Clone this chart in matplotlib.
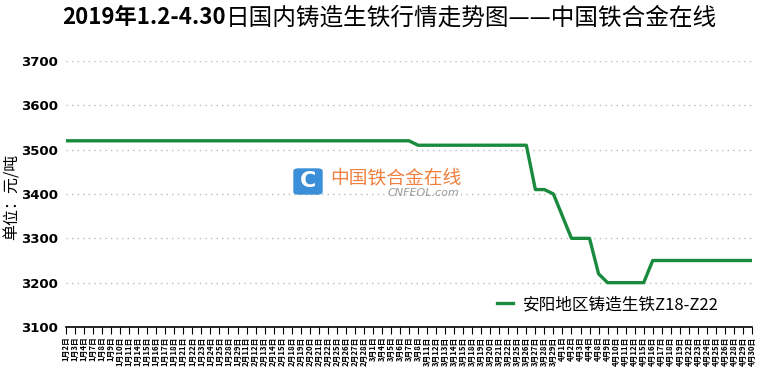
import matplotlib
matplotlib.use("Agg")
import matplotlib.pyplot as plt
from matplotlib.patches import FancyBboxPatch

plt.rcParams['font.family'] = ['Noto Sans CJK SC', 'DejaVu Sans']

# trading days shown on the x axis
months = [1] * 20 + [2] * 14 + [3] * 21 + [4] * 22
days = [2, 3, 4, 7, 8, 9, 10, 11, 14, 15, 16, 17, 18, 21, 22, 23, 24, 25, 28, 29,
        11, 12, 13, 14, 15, 18, 19, 20, 21, 22, 25, 26, 27, 28,
        1, 4, 5, 6, 7, 8, 11, 12, 13, 14, 15, 18, 19, 20, 21, 22, 25, 26, 27, 28, 29,
        1, 2, 3, 4, 8, 9, 10, 11, 12, 15, 16, 17, 18, 19, 22, 23, 24, 25, 26, 28, 29, 30]
date_labels = [f"{m}月{d}日" for m, d in zip(months, days)]

# 安阳地区铸造生铁Z18-Z22, 元/吨
prices = ([3520] * 39 + [3510] * 13 +
          [3410, 3410, 3400, 3350, 3300, 3300, 3300, 3220,
           3200, 3200, 3200, 3200, 3200] +
          [3250] * 12)

series_name = "安阳地区铸造生铁Z18-Z22"
title_a = "2019年1.2-4.30"
title_b = "日国内铸造生铁行情走势图——中国铁合金在线"
y_ticks = [3100, 3200, 3300, 3400, 3500, 3600, 3700]

W, H = 760, 369
fig = plt.figure(figsize=(W / 100, H / 100), dpi=100)
ax = fig.add_axes([66 / W, 1 - 327 / H, (752 - 66) / W, (327 - 61) / H])

x = list(range(len(prices)))
ax.plot(x, prices, color="#1a8a3e", lw=2.4, label=series_name, zorder=3)

ax.set_xlim(0, len(prices) - 1)
ax.set_ylim(3100, 3700)
ax.set_yticks(y_ticks)
ax.set_yticklabels([str(v) for v in y_ticks], fontsize=9.5, fontweight="bold",
                   family="DejaVu Sans")
ax.tick_params(axis="y", length=0, pad=6)
ax.grid(axis="y", color="#bbbbbb", linestyle=(0, (1, 3)), lw=1)

ax.set_xticks(x)
ax.set_xticklabels(date_labels, rotation=90, fontsize=5.6, fontweight="bold")
ax.tick_params(axis="x", length=5, width=0.8, direction="out", pad=2)

for s in ["top", "right", "left"]:
    ax.spines[s].set_visible(False)
ax.spines["bottom"].set_linewidth(1.2)

fig.text(12 / W, 1 - 197 / H, "单位：元/吨", rotation=90, ha="center",
         va="center", fontsize=11.5)

leg = ax.legend(loc="lower right", bbox_to_anchor=(0.974, -0.005), frameon=False,
                fontsize=12, handlelength=1.0, handletextpad=0.6)

# title: bold date part + regular remainder
t1 = fig.text(62 / W, 1 - 18 / H, title_a, ha="left", va="center",
              fontsize=16, fontweight="bold",
              family=["Liberation Sans Narrow", "Noto Sans CJK SC"])
ax.annotate(title_b, xy=(1, 0.5), xycoords=t1, ha="left", va="center",
            fontsize=17, annotation_clip=False)

# watermark
logo = FancyBboxPatch((294 / W, 1 - 194 / H), 28 / W, 25 / H,
                      boxstyle="round,pad=0,rounding_size=0.006",
                      transform=fig.transFigure, color="#3b8fd8", zorder=5)
fig.patches.append(logo)
fig.text(308 / W, 1 - 181 / H, "C", ha="center", va="center", fontsize=16,
         fontweight="bold", color="white", family="DejaVu Sans", zorder=6)
fig.text(330 / W, 1 - 178 / H, "中国铁合金在线", ha="left", va="center",
         fontsize=13.5, color="#f08040", zorder=6)
fig.text(388 / W, 1 - 193 / H, "CNFEOL.com", ha="left", va="center",
         fontsize=8, color="#9a9a9a", style="italic", family="DejaVu Sans",
         zorder=6)

fig.savefig("out.png", dpi=100)
